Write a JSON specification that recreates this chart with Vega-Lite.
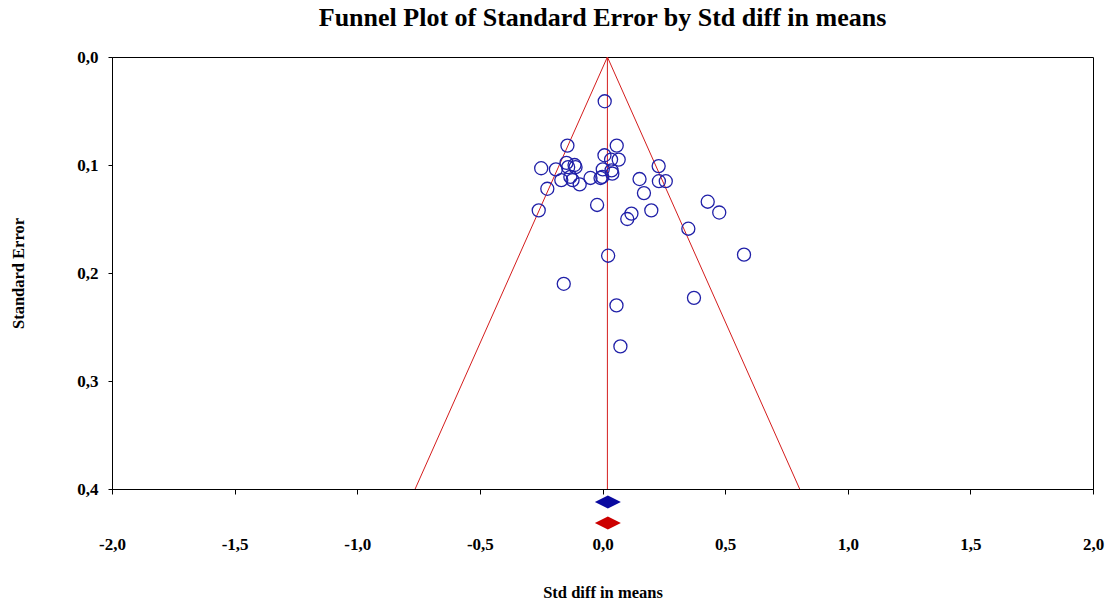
{
  "$schema": "https://vega.github.io/schema/vega-lite/v6.json",
  "width": 981,
  "height": 432,
  "autosize": {"type": "none"},
  "padding": {"left": 112, "top": 57, "right": 14, "bottom": 121},
  "background": "white",
  "title": {
    "text": "Funnel Plot of Standard Error by Std diff in means",
    "font": "Liberation Serif",
    "fontWeight": "bold",
    "fontSize": 26,
    "color": "black",
    "anchor": "middle",
    "offset": 17
  },
  "config": {
    "view": {"stroke": "black", "strokeWidth": 1},
    "axis": {
      "grid": false,
      "labelFlush": false,
      "domainColor": "black",
      "tickColor": "black",
      "labelColor": "black",
      "titleColor": "black",
      "labelFont": "Liberation Serif",
      "labelFontWeight": "bold",
      "labelFontSize": 17,
      "titleFont": "Liberation Serif",
      "titleFontWeight": "bold",
      "titleFontSize": 16.5
    }
  },
  "datasets": {
    "studies": [
      {"d": 0.009, "se": 0.041},
      {"d": -0.143, "se": 0.082},
      {"d": 0.058, "se": 0.082},
      {"d": 0.008, "se": 0.091},
      {"d": 0.035, "se": 0.095},
      {"d": 0.066, "se": 0.095},
      {"d": -0.250, "se": 0.103},
      {"d": -0.190, "se": 0.104},
      {"d": -0.147, "se": 0.098},
      {"d": -0.114, "se": 0.100},
      {"d": -0.110, "se": 0.102},
      {"d": -0.140, "se": 0.102},
      {"d": 0.229, "se": 0.101},
      {"d": 0.001, "se": 0.104},
      {"d": 0.037, "se": 0.105},
      {"d": 0.040, "se": 0.108},
      {"d": -0.001, "se": 0.111},
      {"d": -0.008, "se": 0.112},
      {"d": -0.049, "se": 0.112},
      {"d": -0.131, "se": 0.111},
      {"d": -0.122, "se": 0.114},
      {"d": -0.168, "se": 0.114},
      {"d": -0.093, "se": 0.118},
      {"d": -0.225, "se": 0.122},
      {"d": 0.151, "se": 0.113},
      {"d": 0.230, "se": 0.115},
      {"d": 0.258, "se": 0.115},
      {"d": 0.169, "se": 0.126},
      {"d": -0.260, "se": 0.142},
      {"d": -0.022, "se": 0.137},
      {"d": 0.118, "se": 0.145},
      {"d": 0.101, "se": 0.150},
      {"d": 0.199, "se": 0.142},
      {"d": 0.429, "se": 0.134},
      {"d": 0.476, "se": 0.144},
      {"d": 0.350, "se": 0.159},
      {"d": 0.023, "se": 0.184},
      {"d": 0.577, "se": 0.183},
      {"d": -0.158, "se": 0.210},
      {"d": 0.373, "se": 0.223},
      {"d": 0.057, "se": 0.230},
      {"d": 0.073, "se": 0.268}
    ],
    "funnel": [
      {"x": 0.02, "y": 0, "x2": -0.764, "y2": 0.4},
      {"x": 0.02, "y": 0, "x2": 0.804, "y2": 0.4},
      {"x": 0.02, "y": 0, "x2": 0.02, "y2": 0.4}
    ],
    "summary": [
      {"model": "fixed", "d": 0.022},
      {"model": "random", "d": 0.022}
    ]
  },
  "layer": [
    {
      "data": {"name": "funnel"},
      "mark": {"type": "rule", "color": "#d41c1c", "strokeWidth": 1},
      "encoding": {
        "x": {
          "field": "x", "type": "quantitative",
          "scale": {"domain": [-2, 2], "nice": false, "zero": false},
          "axis": {
            "title": "Std diff in means",
            "values": [-2, -1.5, -1, -0.5, 0, 0.5, 1, 1.5, 2],
            "labelExpr": "replace(replace(format(datum.value, '.1f'), '.', ','), '\u2212', '-')",
            "tickSize": 5,
            "labelPadding": 42,
            "titlePadding": 32
          }
        },
        "y": {
          "field": "y", "type": "quantitative",
          "scale": {"domain": [0, 0.4], "reverse": true, "nice": false},
          "axis": {
            "title": "Standard Error",
            "values": [0, 0.1, 0.2, 0.3, 0.4],
            "labelExpr": "replace(format(datum.value, '.1f'), '.', ',')",
            "tickSize": 4,
            "labelPadding": 10,
            "titlePadding": 50
          }
        },
        "x2": {"field": "x2"},
        "y2": {"field": "y2"}
      }
    },
    {
      "data": {"name": "studies"},
      "mark": {"type": "point", "shape": "circle", "filled": false, "color": "#2020a8", "strokeWidth": 1.3, "size": 170, "opacity": 1},
      "encoding": {
        "x": {"field": "d", "type": "quantitative"},
        "y": {"field": "se", "type": "quantitative"}
      }
    },
    {
      "data": {"name": "summary"},
      "transform": [{"filter": "datum.model === 'fixed'"}],
      "mark": {"type": "point", "shape": "M -1 0 L 0 -0.5 L 1 0 L 0 0.5 Z", "filled": true, "color": "#0a0aa0", "size": 676, "opacity": 1, "yOffset": 13},
      "encoding": {
        "x": {"field": "d", "type": "quantitative"},
        "y": {"datum": 0.4}
      }
    },
    {
      "data": {"name": "summary"},
      "transform": [{"filter": "datum.model === 'random'"}],
      "mark": {"type": "point", "shape": "M -1 0 L 0 -0.5 L 1 0 L 0 0.5 Z", "filled": true, "color": "#cc0000", "size": 676, "opacity": 1, "yOffset": 34},
      "encoding": {
        "x": {"field": "d", "type": "quantitative"},
        "y": {"datum": 0.4}
      }
    }
  ]
}
